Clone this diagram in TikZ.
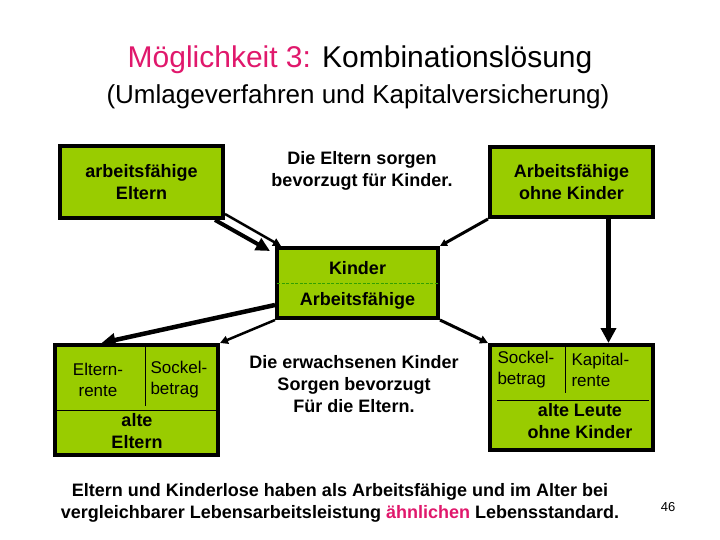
\documentclass[tikz,border=0pt]{standalone}
\usepackage{fontspec}
\setmainfont{Liberation Sans}
\usetikzlibrary{arrows.meta,calc}
\definecolor{boxgreen}{HTML}{99CC00}
\definecolor{dashgreen}{HTML}{33A000}
\definecolor{titlemag}{HTML}{E0186C}

\begin{document}
\begin{tikzpicture}[x=1pt,y=-1pt,
  box/.style={draw=black,line width=4pt,fill=boxgreen,minimum width=163pt,inner sep=0pt},
  big/.style={font=\fontsize{18}{22}\selectfont\bfseries,align=center},
  small/.style={font=\fontsize{17}{21}\selectfont,align=left},
  divider/.style={draw=black,line width=0.8pt},
  fatarr/.style={draw=black,line width=4.5pt,-{Triangle[length=14pt,width=13pt]}},
  thinarr/.style={draw=black,line width=2.5pt,-{Triangle[length=8pt,width=8pt]}}]
\useasboundingbox (0,0) rectangle (720,540);

% ===== title =====
\node[font=\fontsize{30}{34}\selectfont] (title) at (360,60) {\textcolor{titlemag}{Möglichkeit 3:} Kombinationslösung};
\node[font=\fontsize{26}{30}\selectfont] (subtitle) at (358,97) {(Umlageverfahren und Kapitalversicherung)};

% ===== top row =====
\node[box,big,minimum height=72pt] (elt) at (141.5,182) {arbeitsfähige\\Eltern};
\node[big] (sorgenK) at (362,171) {Die Eltern sorgen\\bevorzugt für Kinder.};
\node[box,big,minimum height=70pt] (ohne) at (571.5,182) {Arbeitsfähige\\ohne Kinder};

% ===== centre: Kinder / Arbeitsfaehige =====
\node[box,minimum width=161pt,minimum height=70pt] (kind) at (357.5,283) {};
\node[big] (kindtop) at (357.5,268) {Kinder};
\node[big] (kindbot) at (357.5,301) {Arbeitsfähige};
\draw[dashgreen,line width=1pt,dash pattern=on 3pt off 1.5pt] ([xshift=2pt]kind.west) -- ([xshift=-2pt]kind.east);

% ===== bottom left: alte Eltern =====
\node[box,minimum height=110pt] (alteE) at (136.5,400) {};
\draw[divider] ([xshift=8.5pt]alteE.north) -- ++(0,63);
\draw[divider] ([xshift=2pt,yshift=-10pt]alteE.west) -- ([xshift=-4pt,yshift=-10pt]alteE.east);
\node[small,align=center] (erente) at (98,380) {Eltern-\\rente};
\node[small,anchor=west] (sockelL) at (147,380) {Sockel-\\betrag};
\node[big] (alteEtxt) at (137,431) {alte\\Eltern};

\node[big] (sorgenE) at (354,384) {Die erwachsenen Kinder\\Sorgen bevorzugt\\Für die Eltern.};

% ===== bottom right: alte Leute ohne Kinder =====
\node[box,minimum height=105pt] (alteL) at (571.5,397.5) {};
\draw[divider] ([xshift=-6.5pt]alteL.north) -- ++(0,50);
\draw[divider] ([xshift=9pt,yshift=-2.5pt]alteL.west) -- ([xshift=-6pt,yshift=-2.5pt]alteL.east);
\node[small,anchor=west] (sockelR) at (494,370) {Sockel-\\betrag};
\node[small,anchor=west] (kapital) at (568,370) {Kapital-\\rente};
\node[big] (alteLtxt) at (580,421) {alte Leute\\ohne Kinder};

% ===== arrows =====
\draw[fatarr,line width=4pt] ([xshift=-10pt]elt.south east) -- ([xshift=-5pt,yshift=-5pt]kind.north west);
\draw[thinarr] ([yshift=6pt]elt.south east) -- ([xshift=6pt]kind.north west);
\draw[thinarr,line width=3pt,-{Triangle[length=7pt,width=7pt]}] (ohne.south west) -- (kind.north east);
\draw[fatarr] ([yshift=-22pt]kind.west) -- ([xshift=-35pt]alteE.north);
\draw[thinarr] (kind.south west) -- (alteE.north east);
\draw[thinarr,line width=3pt] (kind.south east) -- (alteL.north west);
\draw[fatarr,-{Triangle[length=15pt,width=15pt]}] ([xshift=37pt]ohne.south) -- ([xshift=37pt]alteL.north);

% ===== bottom line =====
\node[big] (fazit) at (340,502.5) {Eltern und Kinderlose haben als Arbeitsfähige und im Alter bei\\vergleichbarer Lebensarbeitsleistung \textcolor{titlemag}{ähnlichen} Lebensstandard.};
\node[font=\fontsize{13}{15}\selectfont] (seite) at (668,507) {46};

\end{tikzpicture}
\end{document}
